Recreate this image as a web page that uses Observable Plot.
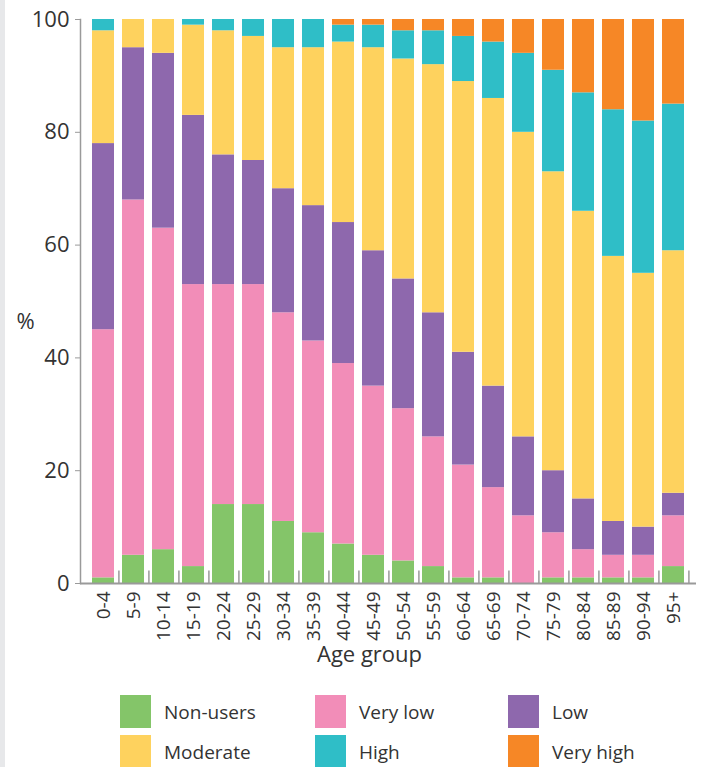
<!DOCTYPE html>
<html>
<head>
<meta charset="utf-8">
<script src="https://cdn.jsdelivr.net/npm/d3@7"></script>
<script src="https://cdn.jsdelivr.net/npm/@observablehq/plot@0.6"></script>
<style>
  html, body { margin: 0; padding: 0; background: #fff; }
  body { width: 704px; height: 767px; position: relative; overflow: hidden;
         font-family: "Open Sans", sans-serif; color: #333; }
  #strip { position: absolute; left: 0; top: 0; width: 5px; height: 767px; background: #e7e8ea; }
  #chart { position: absolute; left: 0; top: 0; }
  #legend { position: absolute; left: 0; top: 695px; width: 704px; }
  .item { position: absolute; display: flex; align-items: center; font-size: 19px; height: 33px; }
  .sw { width: 31px; height: 33px; margin-right: 13px; flex: none; }
</style>
</head>
<body>
<div id="strip"></div>
<div id="chart"></div>
<div id="legend"></div>
<script>
const ageGroups = ["0-4","5-9","10-14","15-19","20-24","25-29","30-34","35-39","40-44","45-49",
                   "50-54","55-59","60-64","65-69","70-74","75-79","80-84","85-89","90-94","95+"];
const levels = ["Non-users","Very low","Low","Moderate","High","Very high"];
const colors = ["#84c569","#f28db8","#8e68ad","#fed25e","#2fbec7","#f68726"];
const nonUsers = [1,5,6,3,14,14,11,9,7,5,4,3,1,1,0,1,1,1,1,3];
const veryLow  = [44,63,57,50,39,39,37,34,32,30,27,23,20,16,12,8,5,4,4,9];
const low      = [33,27,31,30,23,22,22,24,25,24,23,22,20,18,14,11,9,6,5,4];
const moderate = [20,5,6,16,22,22,25,28,32,36,39,44,48,51,54,53,51,47,45,43];
const high     = [2,0,0,1,2,3,5,5,3,4,5,6,8,10,14,18,21,26,27,26];
const veryHigh = [0,0,0,0,0,0,0,0,1,1,2,2,3,4,6,9,13,16,18,15];
const yTicks = [0,20,40,60,80,100];

const series = [nonUsers, veryLow, low, moderate, high, veryHigh];
const data = [];
ageGroups.forEach((age, i) => {
  levels.forEach((level, j) => data.push({age, level, value: series[j][i]}));
});

const fontFamily = '"Open Sans", sans-serif';
const W = 704, mL = 80, mR = 8;
const step = (W - mL - mR) / ageGroups.length;

const chart = Plot.plot({
  width: W, height: 680,
  marginTop: 19, marginLeft: mL, marginRight: mR, marginBottom: 97,
  style: {fontFamily, fontSize: "20px", color: "#333", background: "transparent"},
  x: {domain: ageGroups, paddingInner: 0.26, paddingOuter: 0.13, label: null},
  y: {domain: [0, 100], label: null},
  color: {domain: levels, range: colors},
  marks: [
    Plot.barY(data, {x: "age", y: "value", fill: "level"}),
    Plot.ruleX(ageGroups, {x: d => d, dx: step / 2, y1: 0, y2: 2.2, stroke: "#9a9a9a", strokeWidth: 1.5}),
    Plot.ruleY([0], {stroke: "#9a9a9a", strokeWidth: 2}),
    Plot.frame({anchor: "left", stroke: "#9a9a9a", strokeWidth: 1.5}),
    Plot.axisY({ticks: yTicks, tickSize: 5, tickPadding: 6, fontSize: 22, label: null, stroke: "#9a9a9a"}),
    Plot.axisX({tickSize: 0, tickRotate: -90, tickPadding: 8, fontSize: 19, label: null}),
    Plot.text(["%"], {frameAnchor: "left", dx: -64, dy: 20, fontSize: 22, fill: "#333"}),
    Plot.text(["Age group"], {frameAnchor: "bottom", dy: 78, dx: -19, fontSize: 22, fill: "#333"})
  ]
});
document.getElementById("chart").appendChild(chart);

const legend = document.getElementById("legend");
const colLeft = [120, 315, 508];
levels.forEach((level, i) => {
  const item = document.createElement("div");
  item.className = "item";
  item.style.left = colLeft[i % 3] + "px";
  item.style.top = (Math.floor(i / 3) * 40) + "px";
  const sw = document.createElement("div");
  sw.className = "sw";
  sw.style.background = colors[i];
  const t = document.createElement("span");
  t.textContent = level;
  item.appendChild(sw);
  item.appendChild(t);
  legend.appendChild(item);
});
</script>
</body>
</html>
